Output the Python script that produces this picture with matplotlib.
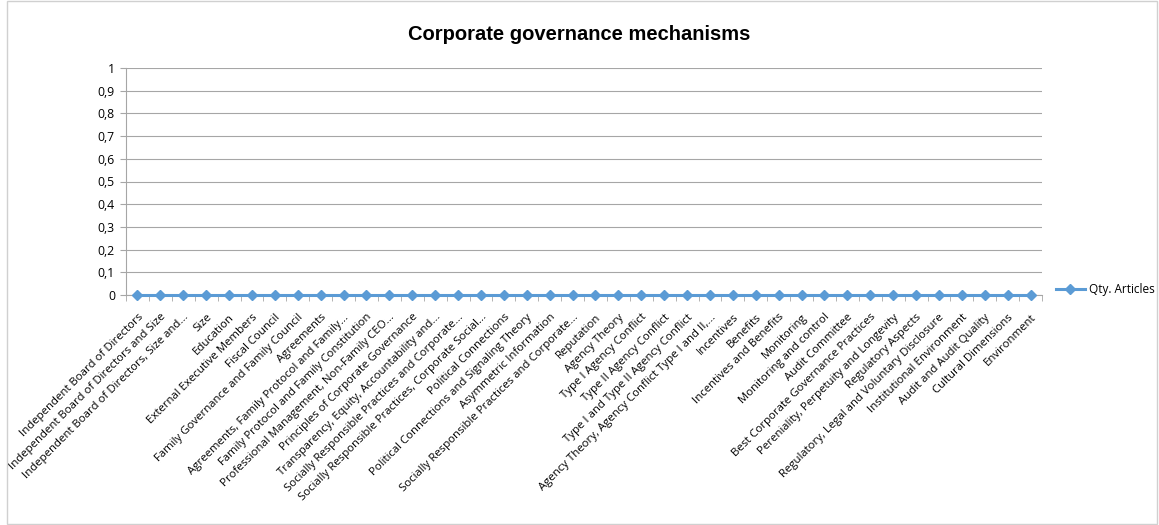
import matplotlib
matplotlib.use("Agg")
import matplotlib.pyplot as plt
from matplotlib.patches import Rectangle

categories = [
    "Independent Board of Directors",
    "Independent Board of Directors and Size",
    "Independent Board of Directors, Size and...",
    "Size",
    "Education",
    "External Executive Members",
    "Fiscal Council",
    "Family Governance and Family Council",
    "Agreements",
    "Agreements, Family Protocol and Family...",
    "Family Protocol and Family Constitution",
    "Professional Management, Non-Family CEO...",
    "Principles of Corporate Governance",
    "Transparency, Equity, Accountability and...",
    "Socially Responsible Practices and Corporate...",
    "Socially Responsible Practices, Corporate Social...",
    "Political Connections",
    "Political Connections and Signaling Theory",
    "Asymmetric Information",
    "Socially Responsible Practices and Corporate...",
    "Reputation",
    "Agency Theory",
    "Type I Agency Conflict",
    "Type II Agency Conflict",
    "Type I and Type II Agency Conflict",
    "Agency Theory, Agency Conflict Type I and II,...",
    "Incentives",
    "Benefits",
    "Incentives and Benefits",
    "Monitoring",
    "Monitoring and control",
    "Audit Committee",
    "Best Corporate Governance Practices",
    "Pereniality, Perpetuity and Longevity",
    "Regulatory Aspects",
    "Regulatory, Legal and Voluntary Disclosure",
    "Institutional Environment",
    "Audit and Audit Quality",
    "Cultural Dimensions",
    "Environment",
]
qty_articles = [0] * 40
y_ticks = [0, 0.1, 0.2, 0.3, 0.4, 0.5, 0.6, 0.7, 0.8, 0.9, 1]
y_tick_labels = ["0", "0,1", "0,2", "0,3", "0,4", "0,5", "0,6", "0,7", "0,8", "0,9", "1"]
series_name = "Qty. Articles"
title = "Corporate governance mechanisms"

plt.rcParams['font.family'] = ['Open Sans', 'DejaVu Sans']

W, H = 1159, 525
fig = plt.figure(figsize=(W / 100, H / 100), dpi=100)
fig.patches.append(Rectangle((7 / W, 0.002), 1 - 7 / W - 0.002, 0.996, transform=fig.transFigure,
                             fill=False, edgecolor="#d0d0d0", linewidth=1))

ax = fig.add_axes([126 / W, 1 - 295 / H, (1042 - 126) / W, (295 - 68) / H])
x = list(range(len(categories)))
color = "#5b9bd5"
ax.plot(x, qty_articles, color=color, linewidth=2.2, marker="D", markersize=5.5,
        markeredgecolor=color, markerfacecolor=color, label=series_name, clip_on=False, zorder=5)

n = len(categories)
ax.set_xlim(-0.5, n - 0.5)
ax.set_ylim(0, 1)
ax.set_yticks(y_ticks)
ax.set_yticklabels(y_tick_labels, fontsize=8.8)
ax.yaxis.grid(True, color="#a6a6a6", linewidth=0.8)
ax.set_axisbelow(True)
for s in ["top", "right"]:
    ax.spines[s].set_visible(False)
ax.spines["left"].set_color("#a6a6a6")
ax.spines["bottom"].set_color("#a6a6a6")
ax.tick_params(axis="y", length=4, color="#a6a6a6", pad=4, labelcolor="#000000")

ax.set_xticks(x)
ax.set_xticklabels(categories, rotation=45, ha="right", rotation_mode="anchor", fontsize=8.2)
ax.tick_params(axis="x", length=0, pad=12)
ax.set_xticks([i - 0.5 for i in range(n + 1)], minor=True)
ax.tick_params(axis="x", which="minor", length=4, color="#a6a6a6", direction="out")

fig.text(0.5, 1 - 35 / H, title, ha="center", va="center", fontsize=14.5, fontweight="bold",
         family=['Liberation Sans', 'DejaVu Sans'])

leg = fig.legend(loc="center left", bbox_to_anchor=(1045 / W, 1 - 290 / H), frameon=False,
                 fontsize=8.5, handlelength=2.5, handletextpad=0.3)

fig.savefig("out.png", dpi=100)
